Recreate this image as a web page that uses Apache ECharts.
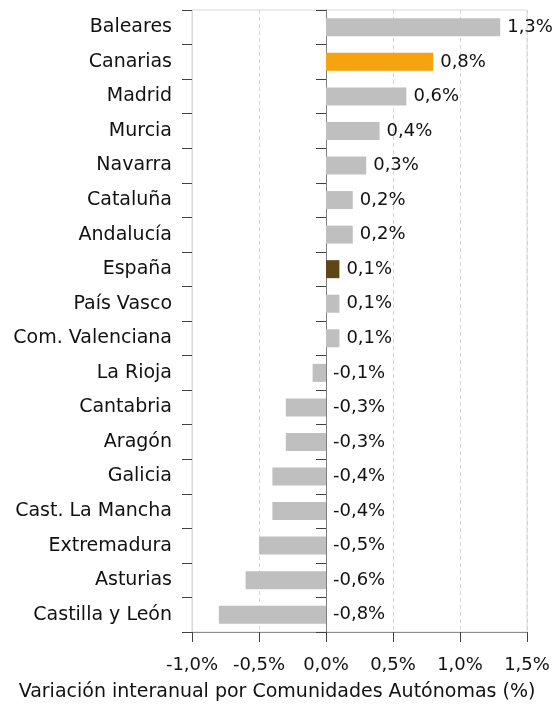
<!DOCTYPE html>
<html>
<head>
<meta charset="utf-8">
<script src="https://cdn.jsdelivr.net/npm/echarts@6/dist/echarts.min.js"></script>
<style>
html,body{margin:0;padding:0;background:#fff;}
#chart{width:554px;height:715px;}
</style>
</head>
<body>
<div id="chart"></div>
<script>
const categories = ['Baleares','Canarias','Madrid','Murcia','Navarra','Cataluña','Andalucía','España','País Vasco','Com. Valenciana','La Rioja','Cantabria','Aragón','Galicia','Cast. La Mancha','Extremadura','Asturias','Castilla y León'];
const values = [1.3,0.8,0.6,0.4,0.3,0.2,0.2,0.1,0.1,0.1,-0.1,-0.3,-0.3,-0.4,-0.4,-0.5,-0.6,-0.8];
const highlight = {'Canarias':'#F5A30F','España':'#5E4616'};
const xMin = -1.0, xMax = 1.5, xStep = 0.5;
const axisTitle = 'Variación interanual por Comunidades Autónomas (%)';

const fmt = v => v.toFixed(1).replace('.', ',') + '%';
const FONT = 'DejaVu Sans';

const chart = echarts.init(document.getElementById('chart'), null, {renderer:'canvas'});
chart.setOption({
  animation:false,
  backgroundColor:'#fff',
  title:{text:axisTitle,left:'center',top:683,padding:0,
    textStyle:{fontFamily:FONT,fontSize:19,fontWeight:'normal',color:'#111'}},
  grid:{left:192,right:27,top:10,bottom:83,show:true,borderColor:'#D9D9D9',borderWidth:1,containLabel:false,outerBoundsMode:'none'},
  xAxis:{
    type:'value',min:xMin,max:xMax,interval:xStep,
    axisLine:{show:true,lineStyle:{color:'#8C8C8C',width:1}},
    axisTick:{show:true,length:10,lineStyle:{color:'#404040',width:1}},
    axisLabel:{formatter:fmt,fontFamily:FONT,fontSize:18,color:'#111',margin:24,showMinLabel:true,showMaxLabel:true,hideOverlap:false},
    splitLine:{show:true,lineStyle:{color:'#D4D4D4',type:[4,3],width:1}}
  },
  yAxis:[{
    type:'category',data:categories,inverse:true,position:'left',
    axisLine:{show:true,onZero:false,lineStyle:{color:'#D9D9D9'}},
    axisTick:{show:true,length:10,lineStyle:{color:'#404040'}},
    axisLabel:{fontFamily:FONT,fontSize:19,color:'#111',margin:20,interval:0},
    splitLine:{show:false}
  },{
    type:'category',data:categories,inverse:true,position:'left',
    axisLine:{show:true,onZero:true,lineStyle:{color:'#808080'}},
    axisTick:{show:true,length:10,lineStyle:{color:'#404040'}},
    axisLabel:{show:false},
    splitLine:{show:false}
  }],
  series:[{
    type:'bar',yAxisIndex:0,barWidth:18,
    data:values.map((v,i)=>({value:v,itemStyle:{color:highlight[categories[i]]||'#BFBFBF'}})),
    label:{show:true,position:'right',distance:7,formatter:p=>fmt(p.value),fontFamily:FONT,fontSize:18,color:'#111'}
  }]
});
</script>
</body>
</html>
